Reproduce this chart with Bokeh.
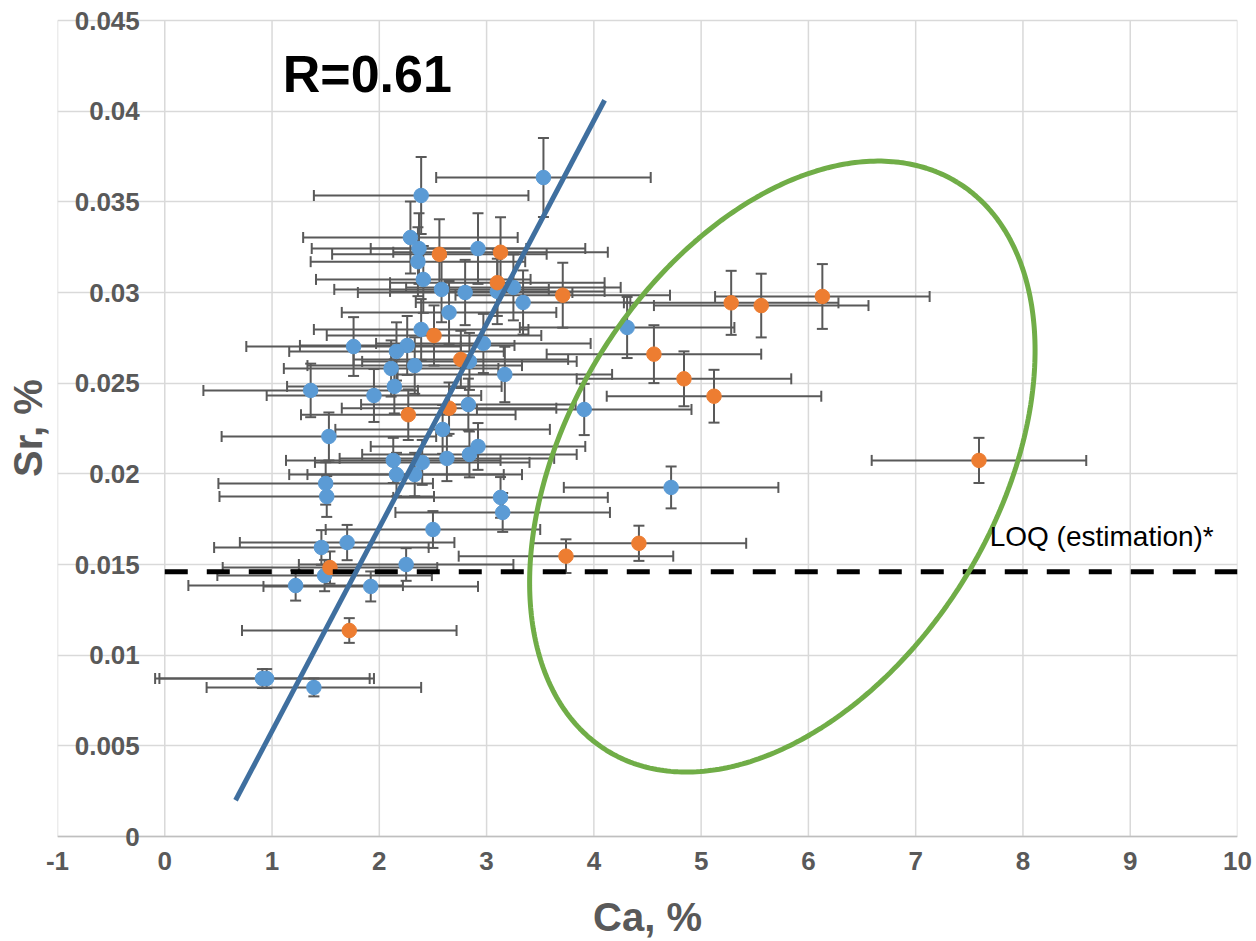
import numpy as np
from bokeh.plotting import figure
from bokeh.models import ColumnDataSource, Whisker, TeeHead, FixedTicker, Range1d, Label, Span
from bokeh.core.properties import value
from bokeh.embed import file_html
from bokeh.resources import INLINE

# ---------------- data ----------------
blue_ca = [3.53, 2.39, 2.29, 2.37, 2.36, 2.92, 2.41, 2.58, 2.80, 3.10, 3.25, 3.34,
           2.65, 4.31, 2.39, 1.76, 2.26, 2.16, 2.97, 2.84, 2.11, 2.33, 3.17, 2.14,
           1.36, 1.95, 2.83, 3.91, 1.53, 2.59, 2.92, 2.84, 2.63, 2.13, 2.40, 2.16,
           2.33, 1.50, 1.51, 4.72, 3.13, 3.15, 2.50, 1.70, 1.46, 2.25, 1.49, 1.22,
           1.92, 0.91, 0.95, 1.39]
blue_sr = [0.03634, 0.03535, 0.03303, 0.03242, 0.03170, 0.03242, 0.03072, 0.03017,
           0.03000, 0.03006, 0.03028, 0.02945, 0.02890, 0.02807, 0.02796, 0.02702,
           0.02708, 0.02675, 0.02719, 0.02620, 0.02581, 0.02597, 0.02548, 0.02482,
           0.02460, 0.02432, 0.02382, 0.02355, 0.02206, 0.02245, 0.02151, 0.02107,
           0.02085, 0.02074, 0.02063, 0.01996, 0.01996, 0.01947, 0.01875, 0.01925,
           0.01870, 0.01787, 0.01693, 0.01621, 0.01594, 0.01500, 0.01439, 0.01384,
           0.01379, 0.00871, 0.00871, 0.00822]

orange_ca = [2.56, 3.13, 3.10, 3.71, 5.28, 5.56, 6.13, 2.51, 2.76, 4.56, 4.84, 5.12,
             2.65, 2.27, 7.59, 4.42, 3.74, 1.54, 1.72]
orange_sr = [0.03211, 0.03222, 0.03054, 0.02985, 0.02943, 0.02928, 0.02978, 0.02763,
             0.02631, 0.02660, 0.02524, 0.02428, 0.02362, 0.02326, 0.02074, 0.01617,
             0.01546, 0.01483, 0.01136]

ca_err = 1.0          # fixed error bar, % Ca
sr_err_pct = 6.0      # percentage error bar, Sr

trend_ca = [0.66, 4.10]
trend_sr = [0.0020, 0.0406]

loq_ca = [0, 10]
loq_sr = 0.0146

ellipse_center = (5.757, 0.0204)
ellipse_u = (1.630, 0.01568)
ellipse_v = (1.701, -0.00616)

x_min, x_max = -1, 10
y_min, y_max = 0, 0.045
x_ticks = list(range(-1, 11))
x_tick_labels = [str(v) for v in x_ticks]
y_ticks = [0, 0.005, 0.01, 0.015, 0.02, 0.025, 0.03, 0.035, 0.04, 0.045]
y_tick_labels = ["0", "0.005", "0.01", "0.015", "0.02", "0.025", "0.03", "0.035", "0.04", "0.045"]
y_axis_cross = 0

r_text = "R=0.61"
r_pos = (1.10, 0.04207)
loq_text = "LOQ (estimation)*"
loq_pos = (7.69, 0.01656)

# ---------------- styling ----------------
FONT = "Liberation Sans"
GRAY = "#595959"
BLUE = "#5B9BD5"
ORANGE = "#ED7D31"
GRID = "#D9D9D9"

PLOT_H = 816                      # pixel height of the 0..0.045 area
PAD_TOP, PAD_BOTTOM = 15, 14      # room so the edge tick labels are not clipped
px_per_unit = PLOT_H / (y_max - y_min)
y_lo = y_min - PAD_BOTTOM / px_per_unit
y_hi = y_max + PAD_TOP / px_per_unit


def make_src(ca, sr):
    ca = np.array(ca)
    sr = np.array(sr)
    return ColumnDataSource(dict(
        x=ca, y=sr,
        xl=ca - ca_err, xu=ca + ca_err,
        yl=sr * (1 - sr_err_pct / 100), yu=sr * (1 + sr_err_pct / 100),
    ))


p = figure(frame_width=1180, frame_height=PLOT_H + PAD_TOP + PAD_BOTTOM,
           x_range=Range1d(x_min, x_max), y_range=Range1d(y_lo, y_hi),
           output_backend="svg", toolbar_location=None,
           min_border_left=57, min_border_right=19, min_border_top=20 - PAD_TOP,
           min_border_bottom=105 - PAD_BOTTOM)
p.outline_line_color = None
p.background_fill_color = "white"

# grid
p.xgrid.visible = False
p.ygrid.ticker = FixedTicker(ticks=y_ticks)
p.ygrid.grid_line_color = GRID
p.ygrid.grid_line_width = 1.5
vg = p.segment(x0=x_ticks, y0=[y_min] * len(x_ticks), x1=x_ticks, y1=[y_max] * len(x_ticks),
               line_color=GRID, line_width=1.5)
vg.level = "underlay"

# x axis line at y = 0
p.add_layout(Span(location=y_min, dimension="width", line_color="#BFBFBF", line_width=1.5,
                  level="underlay"))

# x axis
xa = p.xaxis[0]
xa.ticker = FixedTicker(ticks=x_ticks)
xa.major_label_overrides = {t: s for t, s in zip(x_ticks, x_tick_labels)}
xa.axis_label = "Ca, %"
xa.axis_line_color = None
xa.major_tick_line_color = None
xa.minor_tick_line_color = None
xa.major_label_text_font = FONT
xa.major_label_text_font_style = "bold"
xa.major_label_text_font_size = "26px"
xa.major_label_text_color = GRAY
xa.major_label_standoff = 9 - PAD_BOTTOM
xa.axis_label_text_font = FONT
xa.axis_label_text_font_style = "bold"
xa.axis_label_text_font_size = "40px"
xa.axis_label_text_color = GRAY
xa.axis_label_standoff = 22

# y axis: title only on the outer left; tick labels sit at the x = 0 crossing
ya = p.yaxis[0]
ya.ticker = FixedTicker(ticks=[])
ya.axis_label = "Sr, %"
ya.axis_line_color = None
ya.major_tick_line_color = None
ya.minor_tick_line_color = None
ya.major_label_text_font_size = "0px"
ya.major_tick_out = 0
ya.major_label_standoff = 0
ya.axis_label_text_font = FONT
ya.axis_label_text_font_style = "bold"
ya.axis_label_text_font_size = "40px"
ya.axis_label_text_color = GRAY
ya.axis_label_standoff = 8

for tv, tl in zip(y_ticks, y_tick_labels):
    p.add_layout(Label(x=y_axis_cross, y=tv, text=tl, x_offset=-25,
                       text_align="right", text_baseline="middle",
                       text_font=FONT, text_font_style="bold",
                       text_font_size="26px", text_color=GRAY))

# series
for ca, sr, col in ((blue_ca, blue_sr, BLUE), (orange_ca, orange_sr, ORANGE)):
    src = make_src(ca, sr)
    wx = Whisker(source=src, base="y", lower="xl", upper="xu", dimension="width",
                 line_color=GRAY, line_width=2,
                 upper_head=TeeHead(size=11, line_color=GRAY, line_width=2),
                 lower_head=TeeHead(size=11, line_color=GRAY, line_width=2))
    wy = Whisker(source=src, base="x", lower="yl", upper="yu", dimension="height",
                 line_color=GRAY, line_width=2,
                 upper_head=TeeHead(size=11, line_color=GRAY, line_width=2),
                 lower_head=TeeHead(size=11, line_color=GRAY, line_width=2))
    p.add_layout(wx)
    p.add_layout(wy)
    p.scatter("x", "y", source=src, size=14.5, fill_color=col, line_color=col)

# LOQ line
p.line(loq_ca, [loq_sr, loq_sr], line_color="black", line_width=5, line_dash="23 19")

# trend line
p.line(trend_ca, trend_sr, line_color="#3F6F9F", line_width=5)

# ellipse
t = np.linspace(0, 2 * np.pi, 400)
ex = ellipse_center[0] + ellipse_u[0] * np.cos(t) + ellipse_v[0] * np.sin(t)
ey = ellipse_center[1] + ellipse_u[1] * np.cos(t) + ellipse_v[1] * np.sin(t)
p.line(ex, ey, line_color="#70AD47", line_width=5)

# texts
p.text(x=[r_pos[0]], y=[r_pos[1]], text=[r_text], text_font=value(FONT),
       text_font_style="bold", text_font_size="52px", text_color="black",
       text_baseline="alphabetic", text_align="left")
p.text(x=[loq_pos[0]], y=[loq_pos[1]], text=[loq_text], text_font=value(FONT),
       text_font_size="28px", text_color="black",
       text_baseline="alphabetic", text_align="left")

open("out.html", "w").write(file_html(p, INLINE))
